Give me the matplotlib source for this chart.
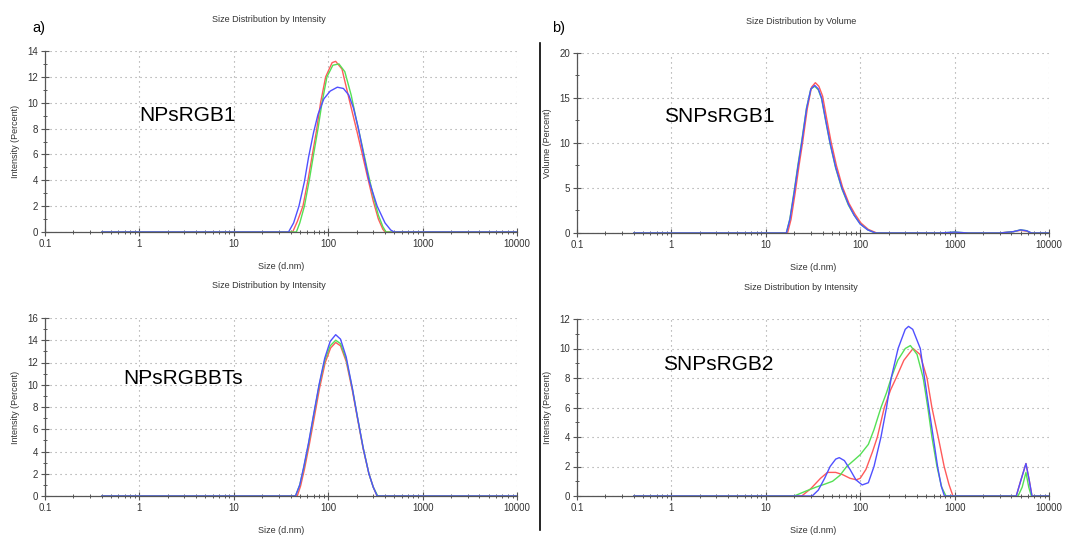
import matplotlib
matplotlib.use('Agg')
import matplotlib.pyplot as plt
from matplotlib.ticker import FixedLocator, AutoMinorLocator, NullFormatter
from matplotlib.lines import Line2D

plt.rcParams['font.family'] = ['Liberation Sans', 'DejaVu Sans']

# ---- a) top: NPsRGB1, size distribution by intensity ----
a1_red_x = [0.4, 42, 47, 54, 61, 68, 75, 83, 94, 110, 120, 140, 170, 200, 230, 260, 300, 340, 380, 400, 10000]
a1_red_y = [0, 0, 0.8, 2.0, 4.0, 6.0, 7.8, 10.0, 12.0, 13.1, 13.2, 12.6, 10.0, 7.9, 6.0, 4.3, 2.4, 1.0, 0.2, 0, 0]
a1_green_x = [0.4, 46, 50, 56, 63, 70, 78, 86, 97, 112, 130, 150, 175, 200, 230, 260, 300, 340, 380, 410, 10000]
a1_green_y = [0, 0, 0.7, 2.0, 4.0, 6.0, 8.0, 10.0, 12.0, 12.9, 13.0, 12.4, 10.6, 8.6, 6.6, 4.8, 2.8, 1.3, 0.4, 0, 0]
a1_blue_x = [0.4, 38, 43, 49, 56, 62, 70, 78, 90, 105, 125, 145, 165, 185, 209, 237, 270, 330, 400, 460, 500, 10000]
a1_blue_y = [0, 0, 0.7, 2.0, 3.9, 5.8, 7.7, 9.1, 10.3, 10.9, 11.2, 11.1, 10.6, 9.6, 8.0, 6.0, 4.0, 2.0, 0.7, 0.15, 0, 0]

# ---- a) bottom: NPsRGBBTs, size distribution by intensity ----
a2_red_x = [0.4, 47, 51, 56, 63, 71, 81, 93, 106, 120, 135, 155, 180, 205, 235, 270, 300, 330, 10000]
a2_red_y = [0, 0, 0.9, 2.4, 4.6, 7.0, 9.7, 12.0, 13.3, 13.8, 13.5, 12.1, 9.5, 6.9, 4.2, 2.0, 0.8, 0, 0]
a2_green_x = [0.4, 45, 50, 55, 62, 70, 80, 92, 105, 120, 135, 155, 180, 205, 235, 270, 300, 335, 10000]
a2_green_y = [0, 0, 1.0, 2.5, 4.7, 7.2, 9.9, 12.2, 13.5, 14.0, 13.7, 12.3, 9.7, 7.0, 4.3, 2.0, 0.8, 0, 0]
a2_blue_x = [0.4, 45, 50, 55, 62, 70, 80, 92, 105, 120, 135, 155, 180, 205, 235, 270, 300, 330, 10000]
a2_blue_y = [0, 0, 1.0, 2.6, 4.8, 7.3, 10.0, 12.4, 13.9, 14.5, 14.1, 12.5, 9.7, 7.0, 4.3, 2.0, 0.8, 0, 0]

# ---- b) top: SNPsRGB1, size distribution by volume ----
b1_red_x = [0.4, 17, 18.5, 20.5, 22.5, 24.5, 27.5, 30.5, 33.5, 36.5, 40, 44, 49, 56, 65, 76, 88, 102, 122, 150, 300, 700, 1000, 1400, 3000, 4200, 5000, 5800, 6500, 10000]
b1_red_y = [0, 0, 1.5, 4.5, 7.5, 10.0, 13.8, 16.2, 16.7, 16.3, 15.2, 12.8, 10.2, 7.5, 5.1, 3.3, 2.1, 1.1, 0.4, 0, 0, 0, 0.05, 0, 0, 0.15, 0.3, 0.2, 0, 0]
b1_green_x = [0.4, 16.5, 18, 20, 22, 24, 27, 30, 33, 36, 39, 43, 48, 55, 64, 75, 86, 100, 120, 145, 300, 700, 1000, 1400, 3000, 4200, 5000, 5800, 6500, 10000]
b1_green_y = [0, 0, 1.6, 4.7, 7.7, 10.2, 13.9, 16.0, 16.3, 15.9, 14.9, 12.5, 9.9, 7.2, 4.9, 3.1, 2.0, 1.0, 0.35, 0, 0, 0, 0.1, 0, 0, 0.15, 0.35, 0.25, 0, 0]
b1_blue_x = [0.4, 16.5, 18, 20, 22, 24, 27, 30, 33, 36, 39, 43, 48, 55, 64, 75, 86, 100, 120, 145, 300, 700, 1000, 1400, 3000, 4200, 5000, 5800, 6500, 10000]
b1_blue_y = [0, 0, 1.5, 4.5, 7.5, 10.0, 13.8, 16.0, 16.4, 16.0, 15.0, 12.6, 10.0, 7.3, 5.0, 3.2, 2.0, 1.0, 0.35, 0, 0, 0, 0.1, 0, 0, 0.15, 0.35, 0.25, 0, 0]

# ---- b) bottom: SNPsRGB2, size distribution by intensity ----
b2_red_x = [0.4, 24, 30, 38, 45, 55, 65, 78, 91, 100, 115, 135, 152, 180, 210, 240, 290, 363, 430, 510, 575, 680, 775, 870, 960, 4500, 5000, 5700, 6200, 6600, 10000]
b2_red_y = [0, 0, 0.5, 1.2, 1.6, 1.6, 1.45, 1.2, 1.1, 1.2, 1.8, 3.0, 4.0, 6.0, 7.2, 8.0, 9.2, 10.0, 9.6, 8.0, 6.0, 3.8, 2.0, 0.8, 0, 0, 1.0, 2.2, 1.0, 0, 0]
b2_green_x = [0.4, 20, 27, 34, 42, 51, 61, 72, 85, 100, 122, 140, 166, 190, 213, 250, 300, 340, 400, 465, 520, 575, 650, 730, 810, 4700, 5200, 5700, 6100, 6500, 10000]
b2_green_y = [0, 0, 0.35, 0.6, 0.8, 1.0, 1.4, 2.0, 2.4, 2.8, 3.5, 4.5, 6.0, 7.0, 8.0, 9.2, 10.0, 10.2, 9.6, 8.0, 6.0, 4.0, 2.0, 0.6, 0, 0, 0.6, 1.6, 0.6, 0, 0]
b2_blue_x = [0.4, 31, 36, 42, 48, 55, 60, 68, 78, 90, 105, 122, 140, 166, 190, 213, 252, 300, 325, 360, 433, 480, 533, 600, 660, 720, 780, 4500, 5000, 5700, 6200, 6600, 10000]
b2_blue_y = [0, 0, 0.4, 1.2, 2.0, 2.5, 2.6, 2.4, 1.8, 1.1, 0.75, 0.9, 2.0, 4.0, 6.0, 8.0, 10.0, 11.3, 11.5, 11.3, 10.0, 8.0, 6.0, 3.8, 2.0, 0.7, 0, 0, 1.0, 2.2, 1.0, 0, 0]

size_ticks = [0.1, 1, 10, 100, 1000, 10000]
size_tick_labels = ['0.1', '1', '10', '100', '1000', '10000']

RED, GREEN, BLUE = '#ff5a5a', '#55e055', '#5050ff'
W, H = 1067, 537


def panel(fig, px, title, ylabel, ymax, ystep, sample, sample_px, curves):
    # px = (left, top, right, bottom) of the plotting area in pixels
    l, t, r, b = px
    ax = fig.add_axes([l / W, 1 - b / H, (r - l) / W, (b - t) / H])
    for (xs, ys), c in zip(curves, [RED, GREEN, BLUE]):
        ax.plot(xs, ys, color=c, lw=1.0, solid_joinstyle='round')
    ax.set_xscale('log')
    ax.set_xlim(0.1, 10000)
    ax.set_ylim(0, ymax)
    ax.xaxis.set_major_locator(FixedLocator(size_ticks))
    ax.set_xticklabels(size_tick_labels)
    ax.xaxis.set_minor_locator(FixedLocator(
        [m * 10.0 ** e for e in range(-1, 4) for m in range(2, 10)]))
    ax.xaxis.set_minor_formatter(NullFormatter())
    yt = list(range(0, ymax + 1, ystep))
    ax.yaxis.set_major_locator(FixedLocator(yt))
    ax.yaxis.set_minor_locator(AutoMinorLocator(2))
    ax.grid(True, which='major', color='#9a9a9a', lw=0.8, ls=(0, (1, 3.5)))
    for s in ['top', 'right']:
        ax.spines[s].set_visible(False)
    for s in ['left', 'bottom']:
        ax.spines[s].set_color('#555555')
        ax.spines[s].set_linewidth(0.9)
    ax.tick_params(which='major', direction='inout', length=6, width=0.8,
                   color='#555555', labelsize=7, labelcolor='#333333', pad=2)
    ax.tick_params(which='minor', direction='inout', length=3, width=0.7,
                   color='#555555')
    ax.set_ylabel(ylabel, fontsize=6.5, color='#333333')
    ax.yaxis.set_label_coords(-0.053, 0.5)
    ax.set_xlabel('Size (d.nm)', fontsize=6.5, color='#333333')
    ax.xaxis.set_label_coords(0.5, -30 / (b - t))
    ax.set_facecolor('none')
    fig.text((l + r) / 2 / W - 12 / W, 1 - (t - 32) / H, title, fontsize=6.5,
             color='#333333', ha='center', va='center')
    fig.text(sample_px[0] / W, 1 - sample_px[1] / H, sample, fontsize=15,
             color='black', ha='left', va='baseline')
    return ax


fig = plt.figure(figsize=(W / 100, H / 100), dpi=100)

panel(fig, (45, 51, 517, 232), 'Size Distribution by Intensity',
      'Intensity (Percent)', 14, 2, 'NPsRGB1', (139, 121),
      [(a1_red_x, a1_red_y), (a1_green_x, a1_green_y), (a1_blue_x, a1_blue_y)])
panel(fig, (45, 318, 517, 496), 'Size Distribution by Intensity',
      'Intensity (Percent)', 16, 2, 'NPsRGBBTs', (123, 384),
      [(a2_red_x, a2_red_y), (a2_green_x, a2_green_y), (a2_blue_x, a2_blue_y)])
panel(fig, (577, 53, 1049, 233), 'Size Distribution by Volume',
      'Volume (Percent)', 20, 5, 'SNPsRGB1', (664, 122),
      [(b1_red_x, b1_red_y), (b1_green_x, b1_green_y), (b1_blue_x, b1_blue_y)])
panel(fig, (577, 319, 1049, 496), 'Size Distribution by Intensity',
      'Intensity (Percent)', 12, 2, 'SNPsRGB2', (663, 370),
      [(b2_red_x, b2_red_y), (b2_green_x, b2_green_y), (b2_blue_x, b2_blue_y)])

fig.text(32 / W, 1 - 28 / H, 'a)', fontsize=10.5, ha='left', va='center')
fig.text(552 / W, 1 - 28 / H, 'b)', fontsize=10.5, ha='left', va='center')
fig.add_artist(Line2D([539.5 / W, 539.5 / W], [1 - 43 / H, 1 - 530 / H],
                      color='black', lw=1.2))

fig.savefig('out.png', dpi=100, facecolor='white')
